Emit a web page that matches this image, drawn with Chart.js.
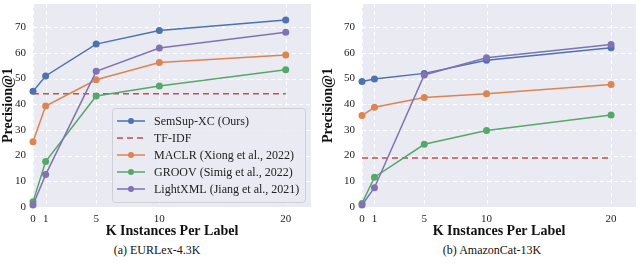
<!DOCTYPE html>
<html lang="en">
<head>
    <meta charset="UTF-8">
    <script src="https://cdn.jsdelivr.net/npm/chart.js@4.4.1/dist/chart.umd.min.js"></script>
    <title>Precision@1 vs K</title>
    <style>
        body { margin: 0; background: #fff; }
        #wrap { position: relative; width: 640px; height: 266px; overflow: hidden; }
        canvas { position: absolute; top: 0; }
        .cap { position: absolute; top: 243px; font: 12px "Liberation Serif", serif; color: #111; transform: translateX(-50%); white-space: nowrap; }
    </style>
</head>
<body>
<div id="wrap">
    <canvas id="left" width="320" height="240" style="left:0"></canvas>
    <canvas id="right" width="320" height="240" style="left:320px"></canvas>
    <div class="cap" style="left:157px">(a) EURLex-4.3K</div>
    <div class="cap" style="left:492px">(b) AmazonCat-13K</div>
</div>

<script>
    // data
    const kValues = [0, 1, 5, 10, 20];
    const xTicks = [0, 1, 5, 10, 20];
    const yTicks = [0, 10, 20, 30, 40, 50, 60, 70];
    const labels = ['SemSup-XC (Ours)', 'TF-IDF', 'MACLR (Xiong et al., 2022)', 'GROOV (Simig et al., 2022)', 'LightXML (Jiang et al., 2021)'];

    const eurSemSup = [45.0, 51.0, 63.4, 68.7, 72.8];
    const eurTfidf = 44.1;
    const eurMaclr = [25.4, 39.3, 49.5, 56.2, 59.2];
    const eurGroov = [2.0, 17.7, 43.2, 47.1, 53.4];
    const eurLight = [0.8, 12.6, 52.8, 61.9, 68.0];

    const amzSemSup = [48.8, 49.8, 52.0, 57.1, 62.0];
    const amzTfidf = 19.1;
    const amzMaclr = [35.6, 38.8, 42.6, 44.1, 47.7];
    const amzGroov = [1.4, 11.6, 24.4, 29.8, 35.8];
    const amzLight = [0.8, 7.5, 51.4, 58.1, 63.2];

    const colors = ['#4C72B0', '#C44E52', '#DD8452', '#55A868', '#8172B3'];
    const serif = '"Liberation Serif", "Times New Roman", serif';

    // grey plot background + white dashed grid lines
    const bgGrid = {
        id: 'bgGrid',
        beforeDatasetsDraw(chart) {
            const a = chart.chartArea;
            const ctx = chart.ctx;
            ctx.save();
            ctx.fillStyle = '#EAEAF2';
            ctx.fillRect(a.left, a.top, a.right - a.left, a.bottom - a.top);
            ctx.strokeStyle = '#ffffff';
            ctx.lineWidth = 1;
            ctx.setLineDash([4, 3]);
            chart.scales.x.ticks.forEach(t => {
                const x = Math.round(chart.scales.x.getPixelForValue(t.value)) + 0.5;
                ctx.beginPath(); ctx.moveTo(x, a.top); ctx.lineTo(x, a.bottom); ctx.stroke();
            });
            chart.scales.y.ticks.forEach(t => {
                const y = Math.round(chart.scales.y.getPixelForValue(t.value)) + 0.5;
                ctx.beginPath(); ctx.moveTo(a.left, y); ctx.lineTo(a.right, y); ctx.stroke();
            });
            ctx.restore();
        }
    };

    // legend drawn inside the plot, lower right (left panel only)
    const innerLegend = {
        id: 'innerLegend',
        afterDatasetsDraw(chart) {
            const ctx = chart.ctx;
            const x0 = 112, y0 = 108, w = 193, h = 94;
            ctx.save();
            ctx.fillStyle = 'rgba(234,234,242,0.85)';
            ctx.strokeStyle = '#cfcfd6';
            ctx.lineWidth = 1;
            ctx.beginPath();
            ctx.roundRect(x0 + 0.5, y0 + 0.5, w, h, 3);
            ctx.fill();
            ctx.stroke();
            ctx.font = '12px ' + serif;
            ctx.textBaseline = 'middle';
            chart.data.datasets.forEach((ds, i) => {
                const y = y0 + 13 + i * 17;
                ctx.strokeStyle = ds.borderColor;
                ctx.lineWidth = 1.5;
                ctx.setLineDash(ds.borderDash || []);
                ctx.beginPath();
                ctx.moveTo(x0 + 5, y);
                ctx.lineTo(x0 + 33, y);
                ctx.stroke();
                ctx.setLineDash([]);
                if (ds.pointRadius > 0) {
                    ctx.fillStyle = ds.borderColor;
                    ctx.beginPath();
                    ctx.arc(x0 + 19, y, 3, 0, Math.PI * 2);
                    ctx.fill();
                }
                ctx.fillStyle = '#222';
                ctx.fillText(ds.label, x0 + 42, y + 1);
            });
            ctx.restore();
        }
    };

    function pts(vals) {
        return kValues.map((k, i) => ({ x: k, y: vals[i] }));
    }

    function makeChart(id, series, tfidf, opts) {
        const lines = [series[0], null, series[1], series[2], series[3]];
        const datasets = labels.map((label, i) => {
            if (i === 1) {
                return {
                    label, data: [{ x: 0, y: tfidf }, { x: 20, y: tfidf }],
                    borderColor: colors[1], borderWidth: 1.5, borderDash: [6, 4],
                    pointRadius: 0, order: 4 - i, clip: false
                };
            }
            return {
                label, data: pts(lines[i]),
                borderColor: colors[i], backgroundColor: colors[i],
                pointBackgroundColor: colors[i], pointBorderWidth: 0,
                borderWidth: 1.5, pointRadius: 3.5, order: 4 - i, clip: false
            };
        });
        new Chart(document.getElementById(id), {
            type: 'line',
            data: { datasets },
            options: {
                responsive: false,
                animation: false,
                layout: { padding: { left: 0, right: opts.right, top: 0, bottom: 0 } },
                plugins: { legend: { display: false }, tooltip: { enabled: false } },
                scales: {
                    x: {
                        type: 'linear', min: 0, max: 22,
                        afterBuildTicks: s => { s.ticks = xTicks.map(v => ({ value: v })); },
                        afterFit: s => { s.height = 33; s.paddingLeft = 0; s.paddingRight = 0; },
                        border: { display: false },
                        grid: { display: false, drawTicks: false },
                        ticks: { padding: 6, color: '#222', font: { family: serif, size: 11 } },
                        title: { display: true, text: 'K Instances Per Label', color: '#111',
                                 padding: { top: 0, bottom: 0 },
                                 font: { family: serif, size: 14, weight: 'bold' } }
                    },
                    y: {
                        min: 0, max: 79,
                        afterBuildTicks: s => { s.ticks = yTicks.map(v => ({ value: v })); },
                        afterFit: s => { s.width = opts.yWidth; s.paddingTop = 0; s.paddingBottom = 0; },
                        border: { display: false },
                        grid: { display: false, drawTicks: false },
                        ticks: { padding: 7, color: '#222', font: { family: serif, size: 11 } },
                        title: { display: true, text: 'Precision@1', color: '#111',
                                 padding: { top: 0, bottom: opts.titlePad },
                                 font: { family: serif, size: 14, weight: 'bold' } }
                    }
                }
            },
            plugins: opts.legend ? [bgGrid, innerLegend] : [bgGrid]
        });
    }

    makeChart('left', [eurSemSup, eurMaclr, eurGroov, eurLight], eurTfidf,
              { right: 9, yWidth: 33, titlePad: 2, legend: true });
    makeChart('right', [amzSemSup, amzMaclr, amzGroov, amzLight], amzTfidf,
              { right: 0, yWidth: 42, titlePad: 6, legend: false });
</script>
</body>
</html>
